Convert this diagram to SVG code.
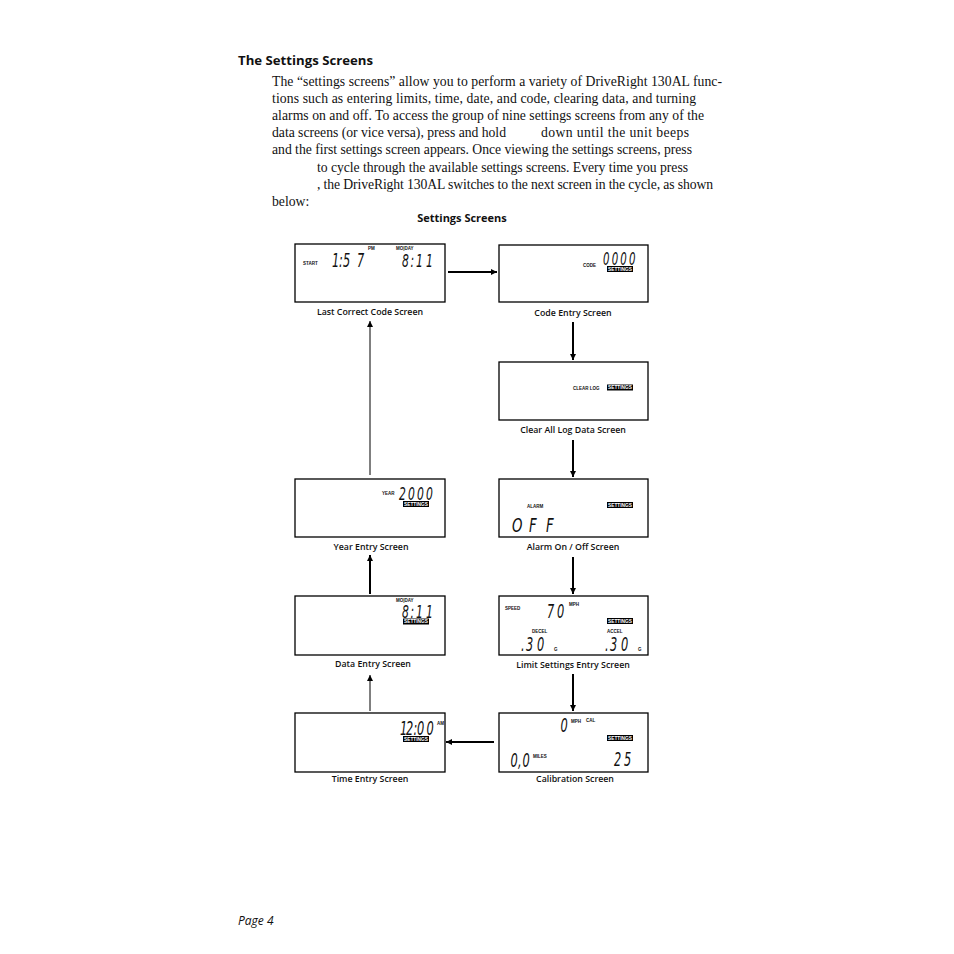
<svg xmlns="http://www.w3.org/2000/svg" width="954" height="954" viewBox="0 0 954 954">
<defs>
<style>
.body{font-family:"Liberation Serif",serif;font-size:13.7px;fill:#111}
.h{font-family:"Open Sans","Liberation Sans",sans-serif;font-weight:700;font-size:13.2px;fill:#111}
.h2{font-family:"Open Sans","Liberation Sans",sans-serif;font-weight:700;font-size:11px;fill:#111;text-anchor:middle}
.cap{font-family:"Open Sans","Liberation Sans",sans-serif;font-weight:600;font-size:8.8px;fill:#111;text-anchor:middle}
.lcd{font-family:"DejaVu Sans",sans-serif;font-weight:200;font-size:19px;font-style:italic;fill:#111}
.tiny{font-family:"Liberation Sans",sans-serif;font-weight:bold;font-size:4.5px;fill:#111}
.settxt{font-family:"Liberation Sans",sans-serif;font-weight:bold;font-size:4.6px;fill:#fff}
.box{fill:#fff;stroke:#000;stroke-width:1.3}
.c1{stroke:#000;stroke-width:1;fill:none}
.c2{stroke:#000;stroke-width:2;fill:none}
.pg{font-family:"Open Sans","Liberation Sans",sans-serif;font-style:italic;font-size:12px;fill:#111}
</style>
<marker id="ah" markerUnits="userSpaceOnUse" markerWidth="7" markerHeight="7" refX="6" refY="3" orient="auto"><path d="M0,0 L6,3 L0,6 Z" fill="#000"/></marker>
<g id="settings"><rect x="0" y="0" width="26" height="6" fill="#000"/><text class="settxt" x="13" y="4.7" text-anchor="middle" textLength="24" lengthAdjust="spacingAndGlyphs">SETTINGS</text></g>
</defs>
<rect width="954" height="954" fill="#fff"/>

<text class="h" x="238" y="65">The Settings Screens</text>
<text class="body" x="272" y="85.5" textLength="450" lengthAdjust="spacing">The “settings screens” allow you to perform a variety of DriveRight 130AL func-</text>
<text class="body" x="272" y="102.7" textLength="424" lengthAdjust="spacing">tions such as entering limits, time, date, and code, clearing data, and turning</text>
<text class="body" x="272" y="119.9" textLength="432" lengthAdjust="spacing">alarms on and off. To access the group of nine settings screens from any of the</text>
<text class="body" x="272" y="137.1" textLength="234" lengthAdjust="spacing">data screens (or vice versa), press and hold</text>
<text class="body" x="541" y="137.1" textLength="148" lengthAdjust="spacing">down until the unit beeps</text>
<text class="body" x="272" y="154.3" textLength="420" lengthAdjust="spacing">and the first settings screen appears. Once viewing the settings screens, press</text>
<text class="body" x="317" y="171.5" textLength="371" lengthAdjust="spacing">to cycle through the available settings screens. Every time you press</text>
<text class="body" x="317" y="188.7" textLength="396" lengthAdjust="spacing">, the DriveRight 130AL switches to the next screen in the cycle, as shown</text>
<text class="body" x="272" y="205.9">below:</text>
<text class="h2" x="462" y="222">Settings Screens</text>

<g id="connectors">
<line class="c2" x1="448" y1="272" x2="497" y2="272" marker-end="url(#ah)"/>
<line class="c2" x1="573" y1="322" x2="573" y2="360" marker-end="url(#ah)"/>
<line class="c2" x1="573" y1="440" x2="573" y2="477" marker-end="url(#ah)"/>
<line class="c2" x1="573" y1="557" x2="573" y2="594" marker-end="url(#ah)"/>
<line class="c2" x1="573" y1="674" x2="573" y2="711" marker-end="url(#ah)"/>
<line class="c2" x1="494" y1="742" x2="446" y2="742" marker-end="url(#ah)"/>
<line class="c1" x1="370" y1="711" x2="370" y2="675" marker-end="url(#ah)"/>
<line class="c2" x1="370" y1="594" x2="370" y2="555" marker-end="url(#ah)"/>
<line class="c1" x1="370" y1="475" x2="370" y2="321" marker-end="url(#ah)"/>
</g>

<g id="last-correct-code" transform="translate(295,244)">
<rect class="box" x="0" y="0" width="150" height="58"/>
<text class="tiny" x="8" y="21">START</text>
<text class="lcd" transform="translate(0,22.5) scale(0.6,1)" x="61.7 73.3 80 103.3" y="0">1:57</text>
<text class="tiny" x="73" y="6">PM</text>
<text class="tiny" x="101" y="6">MO|DAY</text>
<text class="lcd" style="font-size:18px" transform="translate(0,22.5) scale(0.6,1)" x="178.3 192.5 201.7 218.3" y="0">8:11</text>
<text class="cap" x="75" y="71">Last Correct Code Screen</text>
</g>

<g id="code-entry" transform="translate(499,245)">
<rect class="box" x="0" y="0" width="149" height="57"/>
<text class="tiny" x="84" y="21.5">CODE</text>
<text class="lcd" style="font-size:17px" transform="translate(0,19.5) scale(0.6,1)" x="173.3 187.8 202.3 216.7" y="0">0000</text>
<use href="#settings" x="108" y="21"/>
<text class="cap" x="74" y="71">Code Entry Screen</text>
</g>

<g id="clear-log" transform="translate(499,362)">
<rect class="box" x="0" y="0" width="149" height="58"/>
<text class="tiny" x="74" y="27.5">CLEAR LOG</text>
<use href="#settings" x="108" y="22.5"/>
<text class="cap" x="74" y="71">Clear All Log Data Screen</text>
</g>

<g id="year-entry" transform="translate(295,479)">
<rect class="box" x="0" y="0" width="150" height="58"/>
<text class="tiny" x="87" y="16">YEAR</text>
<text class="lcd" style="font-size:18px" transform="translate(0,20.5) scale(0.6,1)" x="173.3 188.3 203.3 218.3" y="0">2000</text>
<use href="#settings" x="108" y="22"/>
<text class="cap" x="76" y="71">Year Entry Screen</text>
</g>

<g id="alarm" transform="translate(499,479)">
<rect class="box" x="0" y="0" width="149" height="58"/>
<text class="tiny" x="28" y="29">ALARM</text>
<use href="#settings" x="108" y="23"/>
<text class="lcd" transform="translate(0,53) scale(0.7,1)" x="18.6 42.9 67.1" y="0">OFF</text>
<text class="cap" x="74" y="71">Alarm On / Off Screen</text>
</g>

<g id="data-entry" transform="translate(295,596)">
<rect class="box" x="0" y="0" width="150" height="59"/>
<text class="tiny" x="101" y="5.5">MO|DAY</text>
<text class="lcd" style="font-size:18px" transform="translate(0,22) scale(0.6,1)" x="178.3 192.5 201.7 218.3" y="0">8:11</text>
<use href="#settings" x="108" y="22.5"/>
<text class="cap" x="78" y="71">Data Entry Screen</text>
</g>

<g id="limit-settings" transform="translate(499,596)">
<rect class="box" x="0" y="0" width="149" height="59"/>
<text class="tiny" x="6" y="14">SPEED</text>
<text class="lcd" transform="translate(0,21.5) scale(0.6,1)" x="80 96.7" y="0">70</text>
<text class="tiny" x="70" y="10">MPH</text>
<use href="#settings" x="108" y="22"/>
<text class="tiny" x="33" y="37">DECEL</text>
<text class="lcd" transform="translate(0,55) scale(0.6,1)" x="36.7 45 63.3" y="0">.30</text>
<text class="tiny" x="55" y="55">G</text>
<text class="tiny" x="108" y="37">ACCEL</text>
<text class="lcd" transform="translate(0,55) scale(0.6,1)" x="176.7 185 203.3" y="0">.30</text>
<text class="tiny" x="139" y="55">G</text>
<text class="cap" x="74" y="72">Limit Settings Entry Screen</text>
</g>

<g id="time-entry" transform="translate(295,713)">
<rect class="box" x="0" y="0" width="150" height="59"/>
<text class="lcd" transform="translate(0,22) scale(0.6,1)" x="175 185 197.5 203.3 219.2" y="0">12:00</text>
<text class="tiny" x="142" y="12">AM</text>
<use href="#settings" x="108" y="23"/>
<text class="cap" x="75" y="69">Time Entry Screen</text>
</g>

<g id="calibration" transform="translate(499,713)">
<rect class="box" x="0" y="0" width="149" height="59"/>
<text class="lcd" transform="translate(0,19) scale(0.6,1)" x="102.5" y="0">0</text>
<text class="tiny" x="72" y="10">MPH</text>
<text class="tiny" x="87" y="9">CAL</text>
<use href="#settings" x="108" y="22"/>
<text class="lcd" transform="translate(0,54) scale(0.6,1)" x="19.2 31.7 39.2" y="0">0,0</text>
<text class="tiny" x="34" y="45">MILES</text>
<text class="lcd" transform="translate(0,53) scale(0.6,1)" x="191.7 208.3" y="0">25</text>
<text class="cap" x="76" y="69">Calibration Screen</text>
</g>

<text class="pg" x="238" y="925">Page 4</text>
</svg>
